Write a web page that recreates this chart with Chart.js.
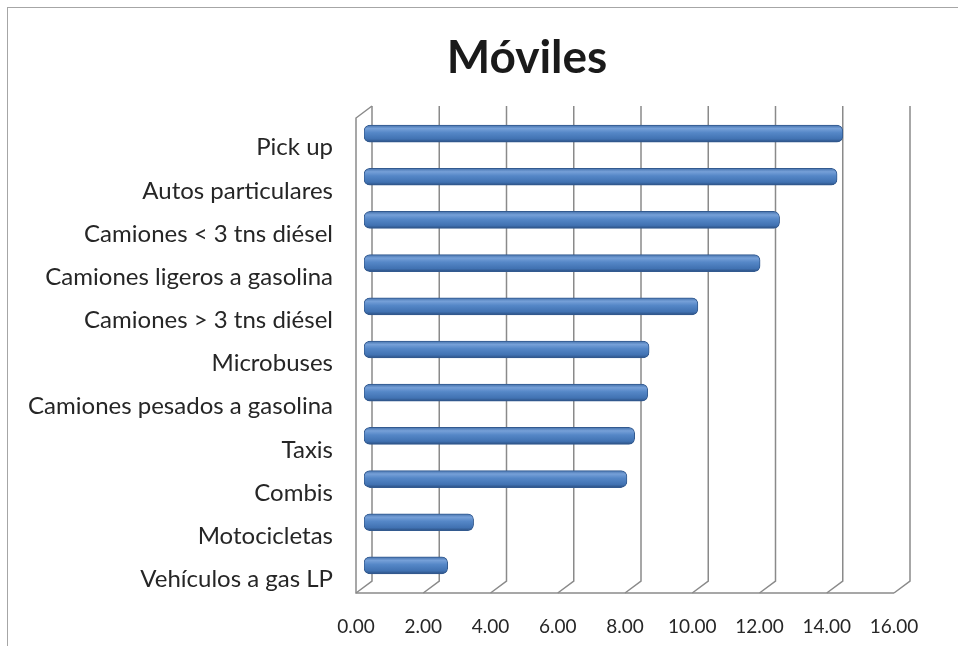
<!DOCTYPE html>
<html>
<head>
<meta charset="utf-8">
<script src="https://cdn.jsdelivr.net/npm/chart.js@4.4.1/dist/chart.umd.min.js"></script>
<style>
  html, body { margin: 0; padding: 0; background: #ffffff; }
  #wrap { position: relative; width: 958px; height: 646px; }
  #frame { position: absolute; left: 7px; top: 7px; width: 951px; height: 639px;
           border-top: 1px solid #a6a6a6; border-left: 1px solid #a6a6a6; box-sizing: border-box; }
  canvas { position: absolute; left: 0; top: 0; }
</style>
</head>
<body>
<div id="wrap">
  <div id="frame"></div>
  <canvas id="c" width="958" height="646"></canvas>
</div>
<script>
const chartTitle = "Móviles";
const categories = [
  "Pick up",
  "Autos particulares",
  "Camiones < 3 tns diésel",
  "Camiones ligeros a gasolina",
  "Camiones > 3 tns diésel",
  "Microbuses",
  "Camiones pesados a gasolina",
  "Taxis",
  "Combis",
  "Motocicletas",
  "Vehículos a gas LP"
];
const values = [14.24, 14.07, 12.36, 11.78, 9.93, 8.48, 8.44, 8.05, 7.82, 3.26, 2.49];
const xMin = 0, xMax = 16, xStep = 2;

const FONT = "Lato, 'Open Sans', sans-serif";
const DX = 8, DY = 6; // pseudo 3D depth offset

const box3d = {
  id: 'box3d',
  beforeDatasetsDraw(chart) {
    const ctx = chart.ctx, ca = chart.chartArea, xs = chart.scales.x;
    const top = ca.top, bot = ca.bottom;
    ctx.save();
    ctx.strokeStyle = '#8a8a8a';
    ctx.lineWidth = 1.5;
    xs.ticks.forEach(t => {
      const px = xs.getPixelForValue(t.value);
      ctx.beginPath();
      ctx.moveTo(px + DX, top - DY);
      ctx.lineTo(px + DX, bot - DY);
      ctx.lineTo(px - DX, bot + DY);
      ctx.stroke();
    });
    const x0 = xs.getPixelForValue(xMin), x1 = xs.getPixelForValue(xMax);
    ctx.beginPath();
    ctx.moveTo(x0 + DX, top - DY);
    ctx.lineTo(x0 - DX, top + DY);
    ctx.lineTo(x0 - DX, bot + DY);
    ctx.lineTo(x1 - DX, bot + DY);
    ctx.stroke();
    ctx.restore();
  }
};

const titleDraw = {
  id: 'titleDraw',
  afterDraw(chart) {
    const ctx = chart.ctx;
    ctx.save();
    ctx.fillStyle = '#1a1a1a';
    ctx.font = "bold 46px " + FONT;
    ctx.textAlign = 'center';
    ctx.textBaseline = 'alphabetic';
    ctx.fillText(chartTitle, 527, 73);
    ctx.restore();
  }
};

function barGradient(c) {
  const chart = c.chart;
  const ys = chart.scales && chart.scales.y;
  if (!ys || c.dataIndex === undefined) return '#4f81bd';
  const yc = ys.getPixelForValue(c.dataIndex);
  if (!isFinite(yc)) return '#4f81bd';
  const h = 9;
  const g = chart.ctx.createLinearGradient(0, yc - h, 0, yc + h);
  g.addColorStop(0, '#3d6aa5');
  g.addColorStop(0.22, '#76a0d8');
  g.addColorStop(0.45, '#5587c7');
  g.addColorStop(0.8, '#4172b2');
  g.addColorStop(1, '#27497a');
  return g;
}

new Chart(document.getElementById('c'), {
  type: 'bar',
  data: {
    labels: categories,
    datasets: [{
      data: values,
      backgroundColor: barGradient,
      borderColor: '#335a8f',
      borderWidth: 1,
      borderRadius: 6,
      borderSkipped: false,
      barThickness: 17
    }]
  },
  options: {
    indexAxis: 'y',
    responsive: false,
    animation: false,
    layout: { padding: { left: 0, right: 56, top: 112, bottom: 0 } },
    plugins: {
      legend: { display: false },
      tooltip: { enabled: false },
      title: { display: false }
    },
    scales: {
      x: {
        min: xMin, max: xMax,
        ticks: {
          stepSize: xStep,
          color: '#262626',
          font: { family: FONT, size: 19 },
          padding: 28,
          labelOffset: -DX,
          maxRotation: 0,
          callback: v => Number(v).toFixed(2)
        },
        grid: { display: false, drawTicks: false },
        border: { display: false },
        afterFit: s => { s.height = 59; }
      },
      y: {
        ticks: {
          color: '#262626',
          font: { family: FONT, size: 24 },
          padding: 31,
          labelOffset: 14,
          autoSkip: false
        },
        grid: { display: false, drawTicks: false },
        border: { display: false },
        afterFit: s => { s.width = 364; }
      }
    }
  },
  plugins: [box3d, titleDraw]
});
</script>
</body>
</html>
